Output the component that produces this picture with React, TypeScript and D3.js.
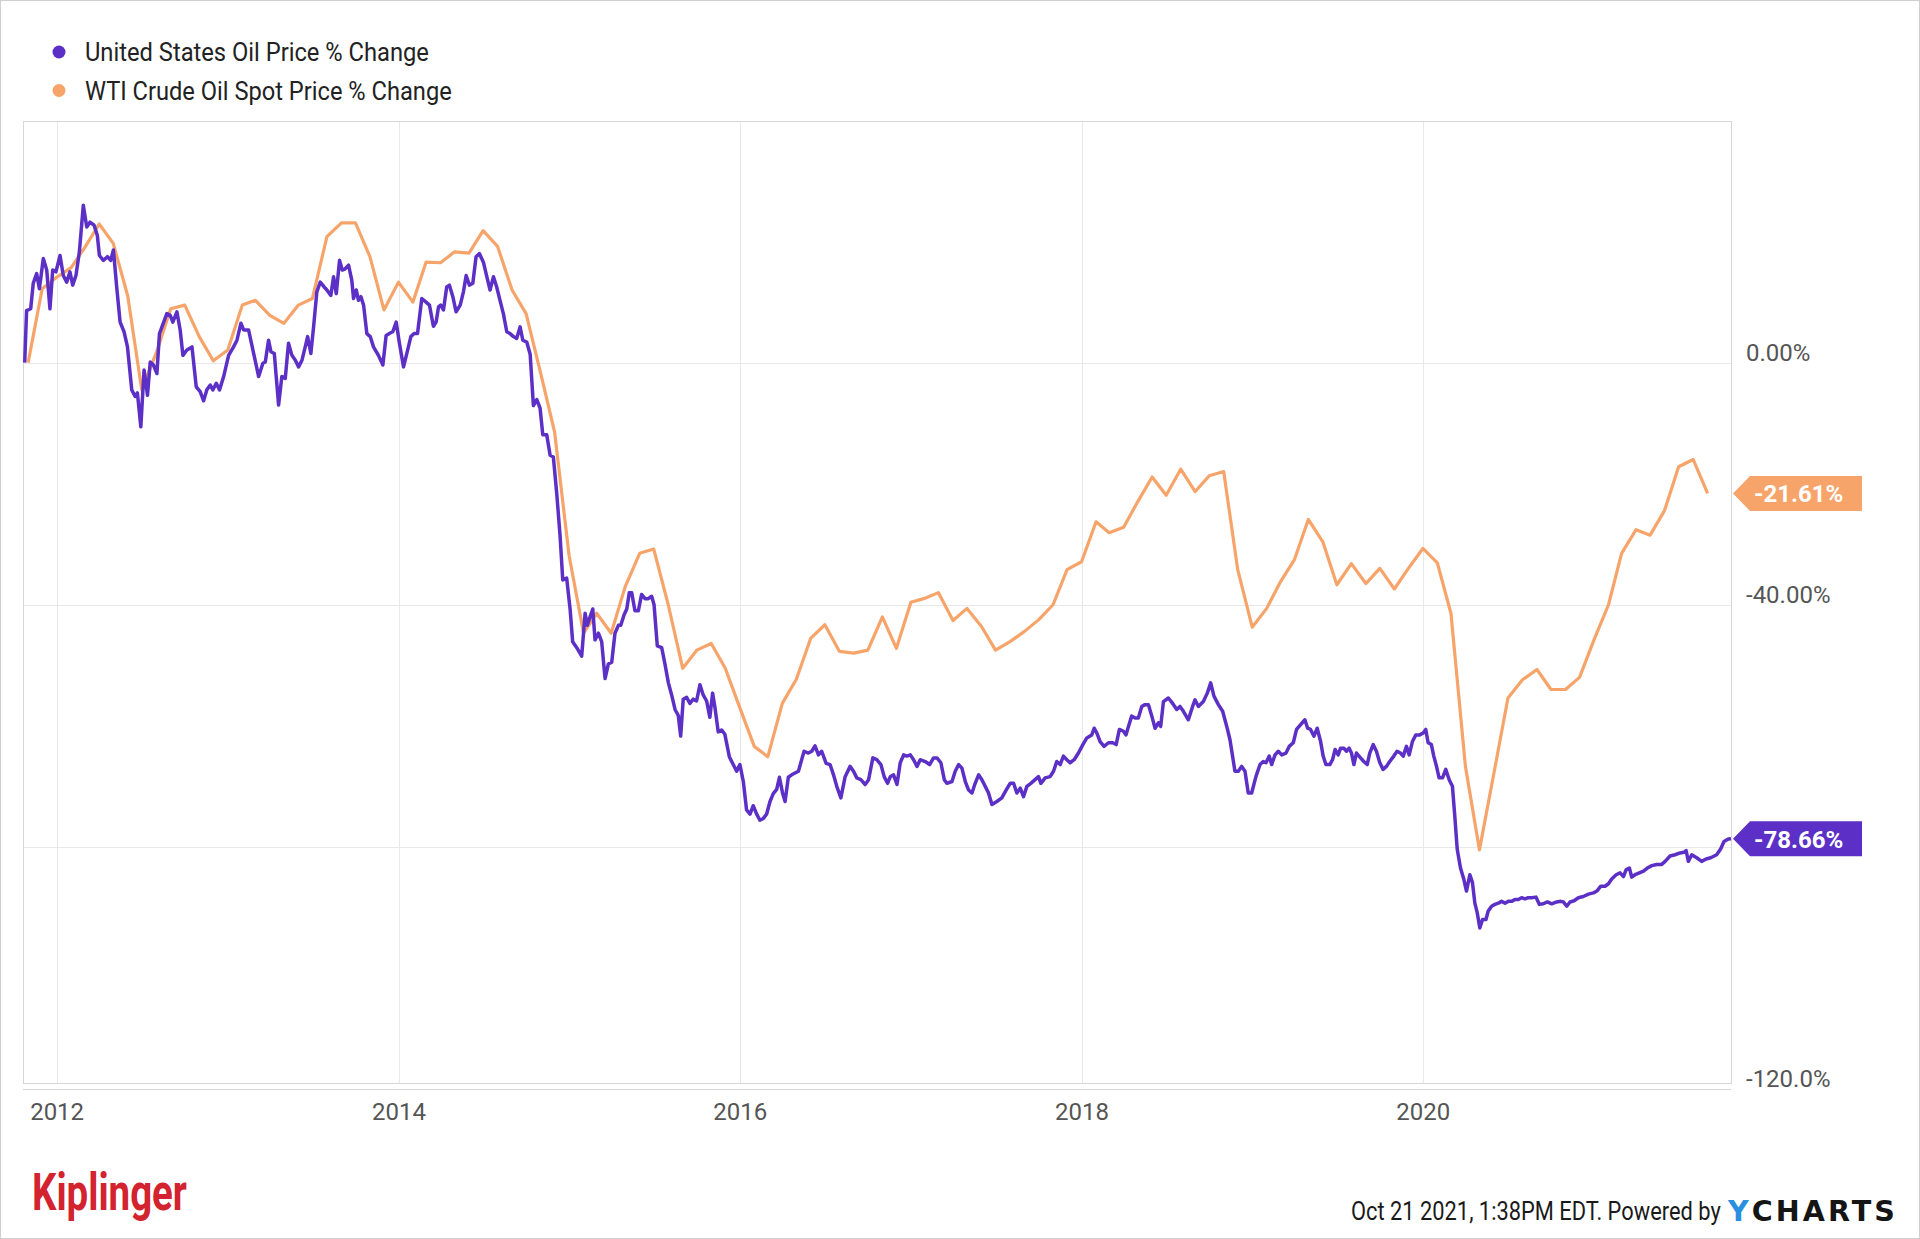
import React, { useLayoutEffect, useRef, useState } from 'react';
import * as d3 from 'd3';

const WIDTH = 1920;
const HEIGHT = 1239;
const PLOT = { left: 23, right: 1731, top: 121, bottom: 1083 };
const AXIS_Y = 1089;
const FONT = 'Roboto, "Noto Sans", sans-serif';
const PURPLE = '#5c30c6';
const ORANGE = '#f7a46b';

const seriesNames = ['United States Oil Price % Change', 'WTI Crude Oil Spot Price % Change'];
const xTickYears = [2012, 2014, 2016, 2018, 2020];
const yTicks = [0, -40, -80, -120];
// the -80 label sits under the USO badge, so it is left empty
const yTickLabels = ['0.00%', '-40.00%', '', '-120.0%'];

// WTI spot, % change, month-end values from Oct 2011 to Aug 2021
const wtiChange = [
  0.0, 12.2, 14.1, 15.7, 19.0, 22.9, 19.7, 11.0, -4.5, 1.6, 8.9, 9.5,
  4.3, 0.3, 2.1, 9.5, 10.3, 7.8, 6.5, 9.5, 10.6, 20.8, 23.1, 23.1,
  17.5, 8.7, 13.3, 10.0, 16.6, 16.5, 18.3, 18.1, 21.8, 19.2, 12.0, 8.1,
  -1.7, -11.5, -31.9, -44.7, -41.4, -44.7, -37.0, -31.5, -30.8, -40.0, -50.5, -47.5,
  -46.4, -50.5, -57.0, -63.4, -65.1, -56.3, -52.3, -45.5, -43.3, -47.7, -48.0, -47.5,
  -42.0, -47.2, -39.6, -38.9, -38.0, -42.6, -40.6, -43.6, -47.5, -46.1, -44.4, -42.5,
  -40.0, -34.2, -32.9, -26.3, -28.1, -27.2, -23.0, -18.9, -21.9, -17.6, -21.3, -18.7,
  -18.0, -34.2, -43.7, -40.6, -36.4, -32.6, -25.9, -29.6, -36.7, -33.2, -36.5, -34.0,
  -37.4, -34.0, -30.7, -33.1, -41.4, -66.7, -80.5, -67.8, -55.4, -52.4, -50.7, -54.0,
  -54.0, -52.0, -45.8, -40.0, -31.5, -27.6, -28.5, -24.4, -17.2, -16.0, -21.61,
];

// United States Oil Fund, % change: [decimal year, value]
const usoChange: [number, number][] = [
  [2011.810, 0], [2011.821, 8.6], [2011.845, 8.9], [2011.860, 13.1], [2011.880, 14.7], [2011.896, 12.2],
  [2011.919, 17.2], [2011.939, 15.3], [2011.958, 8.9], [2011.974, 15.3], [2011.993, 15.0], [2012.017, 17.7],
  [2012.036, 14.4], [2012.056, 13.3], [2012.075, 15.0], [2012.091, 12.8], [2012.110, 14.4], [2012.130, 18.3],
  [2012.153, 26.0], [2012.173, 22.4], [2012.192, 23.2], [2012.216, 22.7], [2012.235, 21.0], [2012.247, 17.7],
  [2012.270, 16.9], [2012.294, 17.5], [2012.313, 16.9], [2012.329, 18.6], [2012.348, 12.5], [2012.368, 6.7],
  [2012.391, 5.1], [2012.411, 2.6], [2012.436, -4.5], [2012.456, -5.6], [2012.469, -5.0], [2012.489, -10.6],
  [2012.508, -1.2], [2012.528, -5.4], [2012.544, 0.1], [2012.563, -0.4], [2012.583, -1.8], [2012.598, 4.8],
  [2012.641, 8.1], [2012.661, 7.8], [2012.676, 6.7], [2012.700, 8.4], [2012.719, 5.4], [2012.735, 1.2],
  [2012.758, 2.1], [2012.788, 2.6], [2012.813, -4.0], [2012.836, -4.8], [2012.856, -6.3], [2012.875, -4.5],
  [2012.895, -3.7], [2012.910, -4.5], [2012.930, -3.4], [2012.949, -4.5], [2012.973, -2.3], [2013.002, 1.2],
  [2013.031, 2.6], [2013.051, 3.7], [2013.074, 6.5], [2013.090, 5.4], [2013.119, 5.4], [2013.149, 1.5],
  [2013.178, -2.3], [2013.203, -0.1], [2013.217, 0.1], [2013.236, 3.7], [2013.250, 1.8], [2013.270, 1.5],
  [2013.281, -2.3], [2013.295, -7.0], [2013.314, -2.3], [2013.334, -2.6], [2013.353, 3.2], [2013.373, 1.2],
  [2013.393, 0.4], [2013.412, -0.7], [2013.432, 0.4], [2013.451, 2.6], [2013.465, 4.3], [2013.484, 1.5],
  [2013.500, 5.9], [2013.519, 11.7], [2013.539, 13.3], [2013.562, 12.5], [2013.578, 12.0], [2013.601, 11.1],
  [2013.617, 14.2], [2013.633, 11.4], [2013.652, 16.9], [2013.668, 15.3], [2013.685, 15.5], [2013.705, 16.1],
  [2013.724, 13.6], [2013.734, 10.6], [2013.750, 12.0], [2013.763, 10.3], [2013.777, 10.9], [2013.793, 9.5],
  [2013.812, 4.8], [2013.832, 4.3], [2013.851, 2.6], [2013.880, 1.2], [2013.906, -0.4], [2013.925, 4.5],
  [2013.949, 4.9], [2013.964, 5.1], [2013.984, 6.7], [2014.003, 3.2], [2014.027, -0.7], [2014.046, 1.5],
  [2014.070, 4.3], [2014.089, 4.8], [2014.109, 4.8], [2014.134, 10.6], [2014.159, 10.0], [2014.179, 9.5],
  [2014.202, 6.0], [2014.218, 6.7], [2014.232, 9.2], [2014.245, 9.5], [2014.261, 8.7], [2014.280, 12.5],
  [2014.296, 12.8], [2014.316, 10.9], [2014.335, 8.4], [2014.359, 9.5], [2014.378, 11.7], [2014.394, 14.4],
  [2014.413, 12.8], [2014.433, 13.1], [2014.452, 17.5], [2014.472, 18.0], [2014.495, 16.6], [2014.515, 14.2],
  [2014.534, 12.0], [2014.554, 14.2], [2014.573, 12.5], [2014.593, 10.2], [2014.612, 8.1], [2014.632, 5.1],
  [2014.651, 4.8], [2014.671, 4.3], [2014.690, 4.0], [2014.710, 5.9], [2014.726, 3.7], [2014.749, 3.4],
  [2014.769, 1.4], [2014.788, -7.1], [2014.808, -6.1], [2014.827, -7.5], [2014.843, -11.9], [2014.866, -11.9],
  [2014.886, -15.3], [2014.905, -15.6], [2014.925, -21.7], [2014.944, -28.5], [2014.960, -35.9], [2014.983, -35.6],
  [2015.003, -40.7], [2015.018, -46.1], [2015.042, -47.1], [2015.071, -48.5], [2015.091, -41.4], [2015.104, -43.4],
  [2015.120, -42.0], [2015.136, -40.7], [2015.149, -45.8], [2015.169, -44.7], [2015.188, -46.1], [2015.208, -52.2],
  [2015.227, -49.8], [2015.247, -49.5], [2015.266, -44.7], [2015.286, -43.4], [2015.300, -43.4], [2015.319, -41.7],
  [2015.335, -40.7], [2015.350, -38.0], [2015.364, -38.0], [2015.383, -41.0], [2015.403, -41.0], [2015.422, -38.3],
  [2015.442, -39.0], [2015.461, -39.0], [2015.481, -38.6], [2015.495, -40.0], [2015.514, -46.8], [2015.540, -47.1],
  [2015.559, -49.8], [2015.579, -52.9], [2015.598, -54.9], [2015.618, -57.3], [2015.637, -58.3], [2015.651, -61.7],
  [2015.666, -55.6], [2015.686, -55.3], [2015.705, -56.3], [2015.725, -55.6], [2015.744, -55.9], [2015.764, -53.2],
  [2015.783, -54.9], [2015.803, -55.9], [2015.822, -58.6], [2015.838, -54.6], [2015.852, -57.0], [2015.871, -61.0],
  [2015.891, -60.7], [2015.910, -61.4], [2015.936, -65.1], [2015.959, -66.4], [2015.979, -67.5], [2015.998, -66.4],
  [2016.018, -69.2], [2016.037, -73.9], [2016.057, -74.6], [2016.076, -73.2], [2016.096, -74.6], [2016.115, -75.6],
  [2016.135, -75.3], [2016.154, -74.6], [2016.174, -72.5], [2016.193, -71.2], [2016.213, -70.5], [2016.229, -68.5],
  [2016.248, -71.2], [2016.262, -72.5], [2016.281, -68.5], [2016.301, -68.1], [2016.320, -67.8], [2016.340, -67.5],
  [2016.373, -64.2], [2016.398, -64.5], [2016.418, -64.2], [2016.437, -63.3], [2016.457, -64.8], [2016.476, -64.2],
  [2016.502, -66.2], [2016.525, -66.4], [2016.545, -68.1], [2016.564, -70.0], [2016.588, -71.9], [2016.613, -68.4],
  [2016.642, -66.7], [2016.662, -67.5], [2016.681, -68.6], [2016.705, -68.9], [2016.730, -69.7], [2016.750, -68.9],
  [2016.775, -65.3], [2016.798, -65.6], [2016.822, -66.4], [2016.841, -68.4], [2016.861, -69.5], [2016.877, -68.4],
  [2016.896, -68.1], [2016.916, -69.7], [2016.935, -66.1], [2016.955, -64.8], [2016.974, -65.0], [2016.994, -64.8],
  [2017.013, -65.6], [2017.033, -66.7], [2017.052, -65.6], [2017.081, -65.9], [2017.107, -66.4], [2017.130, -65.3],
  [2017.150, -65.3], [2017.173, -66.1], [2017.193, -68.9], [2017.208, -69.5], [2017.238, -69.2], [2017.257, -67.5],
  [2017.277, -66.4], [2017.296, -67.0], [2017.316, -69.2], [2017.335, -70.6], [2017.355, -71.1], [2017.374, -69.5],
  [2017.394, -68.1], [2017.413, -68.9], [2017.433, -70.0], [2017.452, -71.1], [2017.472, -73.0], [2017.501, -72.5],
  [2017.530, -71.9], [2017.556, -70.6], [2017.579, -69.5], [2017.599, -69.5], [2017.618, -71.1], [2017.638, -70.3],
  [2017.657, -71.7], [2017.677, -70.0], [2017.700, -69.5], [2017.725, -68.9], [2017.745, -68.4], [2017.759, -69.5],
  [2017.784, -68.6], [2017.813, -68.4], [2017.833, -67.5], [2017.852, -65.9], [2017.872, -66.4], [2017.891, -65.0],
  [2017.911, -65.6], [2017.930, -66.1], [2017.954, -65.6], [2017.979, -64.5], [2018.005, -63.1], [2018.028, -62.0],
  [2018.057, -61.5], [2018.071, -60.4], [2018.087, -61.2], [2018.106, -62.6], [2018.129, -63.4], [2018.155, -62.8],
  [2018.180, -62.8], [2018.200, -63.1], [2018.219, -60.6], [2018.243, -60.9], [2018.258, -61.5], [2018.272, -60.1],
  [2018.291, -58.4], [2018.311, -58.7], [2018.330, -58.7], [2018.350, -56.8], [2018.369, -56.5], [2018.389, -56.5],
  [2018.409, -58.4], [2018.428, -60.4], [2018.448, -59.5], [2018.461, -60.1], [2018.477, -56.0], [2018.506, -55.4],
  [2018.531, -56.3], [2018.555, -57.3], [2018.574, -56.8], [2018.594, -57.6], [2018.623, -59.0], [2018.648, -56.8],
  [2018.662, -55.7], [2018.682, -56.8], [2018.711, -56.0], [2018.734, -54.6], [2018.754, -52.9], [2018.773, -55.1],
  [2018.799, -56.5], [2018.824, -57.6], [2018.848, -60.1], [2018.867, -62.3], [2018.896, -67.5], [2018.916, -67.5],
  [2018.935, -66.7], [2018.955, -67.5], [2018.974, -71.1], [2018.994, -71.1], [2019.019, -68.4], [2019.043, -66.4],
  [2019.062, -65.9], [2019.078, -66.1], [2019.097, -65.0], [2019.111, -66.4], [2019.131, -64.8], [2019.150, -64.2],
  [2019.170, -64.8], [2019.195, -64.5], [2019.214, -63.4], [2019.238, -62.8], [2019.257, -60.6], [2019.281, -59.8],
  [2019.306, -59.0], [2019.322, -60.4], [2019.339, -60.6], [2019.359, -61.7], [2019.378, -60.4], [2019.398, -62.6],
  [2019.413, -65.0], [2019.429, -66.4], [2019.452, -66.4], [2019.468, -65.6], [2019.483, -63.9], [2019.501, -64.8],
  [2019.515, -63.7], [2019.534, -63.7], [2019.550, -64.2], [2019.565, -63.7], [2019.579, -64.5], [2019.593, -66.4],
  [2019.608, -64.5], [2019.632, -65.3], [2019.651, -65.9], [2019.671, -66.4], [2019.686, -64.5], [2019.706, -63.1],
  [2019.725, -64.2], [2019.745, -66.1], [2019.764, -67.2], [2019.784, -66.7], [2019.803, -65.9], [2019.827, -65.0],
  [2019.846, -64.2], [2019.866, -64.5], [2019.882, -65.0], [2019.901, -63.4], [2019.917, -64.8], [2019.936, -62.6],
  [2019.956, -61.5], [2019.979, -61.5], [2019.999, -61.2], [2020.014, -60.6], [2020.028, -62.8], [2020.047, -63.1],
  [2020.061, -65.0], [2020.077, -66.7], [2020.092, -68.6], [2020.112, -68.6], [2020.131, -67.2], [2020.151, -68.9],
  [2020.170, -70.0], [2020.184, -75.0], [2020.198, -80.4], [2020.217, -83.5], [2020.237, -85.4], [2020.252, -87.3],
  [2020.272, -84.6], [2020.287, -85.9], [2020.301, -89.3], [2020.315, -90.9], [2020.330, -93.4], [2020.346, -92.0],
  [2020.366, -92.0], [2020.379, -90.6], [2020.399, -89.8], [2020.418, -89.5], [2020.438, -89.3], [2020.457, -89.0],
  [2020.477, -89.3], [2020.496, -89.0], [2020.516, -89.0], [2020.535, -88.7], [2020.555, -88.7], [2020.574, -88.4],
  [2020.594, -88.6], [2020.613, -88.4], [2020.633, -88.4], [2020.658, -88.3], [2020.678, -89.5], [2020.701, -89.4],
  [2020.725, -89.1], [2020.750, -89.4], [2020.779, -89.1], [2020.803, -89.0], [2020.818, -89.1], [2020.838, -89.8],
  [2020.857, -89.1], [2020.881, -88.9], [2020.906, -88.4], [2020.935, -88.2], [2020.965, -87.8], [2020.994, -87.6],
  [2021.014, -87.3], [2021.037, -86.5], [2021.062, -86.5], [2021.082, -86.1], [2021.101, -85.3], [2021.127, -84.6],
  [2021.150, -84.3], [2021.170, -84.9], [2021.185, -83.8], [2021.205, -83.5], [2021.218, -85.0], [2021.238, -84.6],
  [2021.263, -84.3], [2021.287, -84.0], [2021.310, -83.5], [2021.336, -83.1], [2021.365, -82.9], [2021.394, -82.9],
  [2021.414, -82.4], [2021.443, -81.5], [2021.472, -81.3], [2021.502, -81.0], [2021.525, -80.9], [2021.537, -80.6],
  [2021.550, -82.4], [2021.570, -81.3], [2021.599, -81.8], [2021.628, -82.4], [2021.654, -82.0], [2021.681, -81.8],
  [2021.716, -81.3], [2021.740, -80.3], [2021.759, -79.1], [2021.784, -78.7], [2021.800, -78.66],
];

const fromDecimalYear = (value: number) => {
  const year = Math.floor(value);
  const start = Date.UTC(year, 0, 1);
  const end = Date.UTC(year + 1, 0, 1);
  return new Date(start + (value - year) * (end - start));
};

type Point = [Date, number];

const usoPoints: Point[] = usoChange.map(([t, v]) => [fromDecimalYear(t), v]);
const wtiPoints: Point[] = wtiChange.map((v, i) => [new Date(Date.UTC(2011, 10 + i, 0)), v]);

// text squeezed horizontally to a given width (condensed look, honest bbox)
const FitText = ({ x, y, width, children, ...rest }: any) => {
  const ref = useRef<SVGTextElement>(null);
  const [scale, setScale] = useState(1);
  useLayoutEffect(() => {
    if (!ref.current) return;
    const natural = ref.current.getComputedTextLength();
    if (natural > 0) setScale(width / natural);
  }, [width]);
  return (
    <text ref={ref} x={0} y={0} transform={`translate(${x},${y}) scale(${scale},1)`} {...rest}>
      {children}
    </text>
  );
};

const Badge = ({ y, color, label }: { y: number; color: string; label: string }) => {
  const tip = PLOT.right + 2;
  const h = 35;
  const path = `M${tip},${y} L${tip + 17},${y - h / 2} L1862,${y - h / 2} L1862,${y + h / 2} L${tip + 17},${y + h / 2} Z`;
  return (
    <g>
      <path d={path} fill={color} />
      <text x={1754} y={y + 9} fill="#fff" fontSize={24} fontWeight={700} fontFamily={FONT}>
        {label}
      </text>
    </g>
  );
};

const App = () => {
  const x = d3.scaleUtc()
    .domain([fromDecimalYear(2011.8), fromDecimalYear(2021.8)])
    .range([PLOT.left, PLOT.right]);
  const y = d3.scaleLinear()
    .domain([-120, 40])
    .range([AXIS_Y, 120.5]);

  const line = d3.line<Point>()
    .x(d => x(d[0]))
    .y(d => y(d[1]));

  const usoLast = usoChange[usoChange.length - 1][1];
  const wtiLast = wtiChange[wtiChange.length - 1];

  return (
    <svg
      width={WIDTH}
      height={HEIGHT}
      style={{ position: 'absolute', left: 0, top: 0, display: 'block', background: '#fff' }}
    >
      <rect x={0.5} y={0.5} width={WIDTH - 1} height={HEIGHT - 1} fill="#fff" stroke="#cfcfcf" />

      {/* legend */}
      {seriesNames.map((name, i) => (
        <g key={name}>
          <circle cx={59} cy={52 + i * 38.5} r={6.5} fill={i === 0 ? PURPLE : ORANGE} />
          <FitText
            x={85}
            y={61 + i * 38.5}
            width={i === 0 ? 344 : 367}
            fontSize={25}
            fontFamily={FONT}
            fill="#222"
          >
            {name}
          </FitText>
        </g>
      ))}

      {/* grid */}
      {xTickYears.map(year => {
        const gx = Math.round(x(new Date(Date.UTC(year, 0, 1)))) + 0.5;
        return <line key={year} x1={gx} x2={gx} y1={PLOT.top} y2={PLOT.bottom} stroke="#e8e8e8" />;
      })}
      {yTicks.slice(0, 3).map(v => {
        const gy = Math.round(y(v)) + 0.5;
        return <line key={v} x1={PLOT.left} x2={PLOT.right} y1={gy} y2={gy} stroke="#e8e8e8" />;
      })}
      <rect
        x={PLOT.left + 0.5}
        y={PLOT.top + 0.5}
        width={PLOT.right - PLOT.left}
        height={PLOT.bottom - PLOT.top}
        fill="none"
        stroke="#d6d6d6"
      />
      <line x1={PLOT.left} x2={PLOT.right} y1={AXIS_Y + 0.5} y2={AXIS_Y + 0.5} stroke="#d6d6d6" />

      {/* series */}
      <path d={line(wtiPoints) ?? ''} fill="none" stroke={ORANGE} strokeWidth={3.2} strokeLinejoin="round" />
      <path d={line(usoPoints) ?? ''} fill="none" stroke={PURPLE} strokeWidth={3.5} strokeLinejoin="round" />

      {/* x axis labels */}
      {xTickYears.map(year => (
        <text
          key={year}
          x={x(new Date(Date.UTC(year, 0, 1)))}
          y={1120}
          textAnchor="middle"
          fontSize={24}
          fontFamily={FONT}
          fill="#555"
        >
          {year}
        </text>
      ))}

      {/* y axis labels */}
      {yTicks.map((v, i) => (yTickLabels[i] ? (
        <text key={v} x={1746} y={y(v) - 2} fontSize={24} fontFamily={FONT} fill="#555">
          {yTickLabels[i]}
        </text>
      ) : null))}

      <Badge y={y(wtiLast)} color={ORANGE} label={`${wtiLast.toFixed(2)}%`} />
      <Badge y={y(usoLast)} color={PURPLE} label={`${usoLast.toFixed(2)}%`} />

      {/* footer */}
      <FitText x={32} y={1210} width={155} fontSize={52} fontWeight={700} fontFamily={FONT} fill="#d2232f">
        Kiplinger
      </FitText>
      <FitText x={1351} y={1220} width={370} fontSize={25} fontFamily={FONT} fill="#1a1a1a">
        Oct 21 2021, 1:38PM EDT. Powered by
      </FitText>
      <FitText
        x={1728}
        y={1221}
        width={169}
        fontSize={28}
        fontWeight={700}
        fontFamily='"DejaVu Sans", Roboto, sans-serif'
        letterSpacing={3}
      >
        <tspan fill="#2a8fe0">Y</tspan>
        <tspan fill="#151515">CHARTS</tspan>
      </FitText>
    </svg>
  );
};

export default App;
